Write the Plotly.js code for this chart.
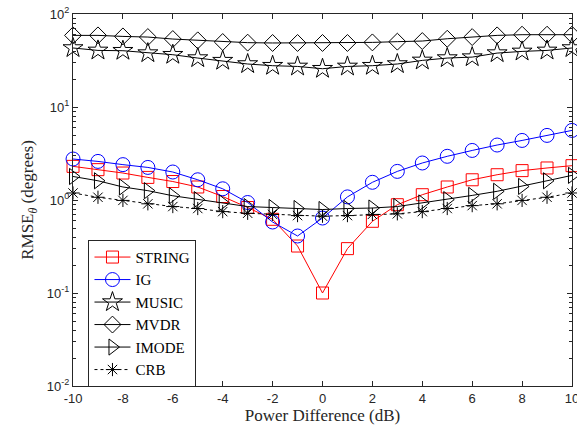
<!DOCTYPE html>
<html>
<head>
<meta charset="utf-8">
<script src="https://cdn.plot.ly/plotly-3.0.1.min.js"></script>
<style>html,body{margin:0;padding:0;background:#fff;}#chart{width:577px;height:434px;}</style>
</head>
<body>
<div id="chart"></div>
<script>
const powerDiff = [-10,-9,-8,-7,-6,-5,-4,-3,-2,-1,0,1,2,3,4,5,6,7,8,9,10];
const stringVals = [2.30,2.12,1.95,1.75,1.58,1.38,1.09,0.83,0.62,0.32,0.10,0.30,0.59,0.89,1.14,1.38,1.65,1.87,2.07,2.21,2.34];
const igVals = [2.76,2.60,2.40,2.24,2.00,1.65,1.32,0.94,0.58,0.41,0.64,1.08,1.55,2.03,2.50,2.95,3.41,3.90,4.37,4.95,5.60];
const musicVals = [43.1,40.6,40.3,38.0,36.5,33.6,31.5,29.0,27.8,27.3,25.8,27.3,27.8,29.0,31.7,33.6,34.4,38.0,39.6,40.6,43.1];
const mvdrVals = [58.9,58.9,57.4,56.5,53.8,52.1,50.0,49.2,48.8,48.8,48.8,48.8,49.5,50.4,51.2,54.2,56.5,58.9,59.9,59.9,59.9];
const imodeVals = [1.79,1.61,1.38,1.26,1.11,1.01,0.93,0.85,0.83,0.81,0.79,0.81,0.82,0.85,0.93,1.01,1.12,1.24,1.40,1.61,1.84];
const crbVals = [1.19,1.07,0.99,0.91,0.85,0.81,0.75,0.72,0.70,0.68,0.67,0.68,0.70,0.71,0.75,0.81,0.87,0.91,0.99,1.07,1.19];
const xTicks = [-10,-8,-6,-4,-2,0,2,4,6,8,10];
const yTicks = [0.01,0.1,1,10,100];
const yTickText = ['10<sup>-2</sup>','10<sup>-1</sup>','10<sup>0</sup>','10<sup>1</sup>','10<sup>2</sup>'];
const yMinor = [0.02,0.03,0.04,0.05,0.06,0.07,0.08,0.09,0.2,0.3,0.4,0.5,0.6,0.7,0.8,0.9,2,3,4,5,6,7,8,9,20,30,40,50,60,70,80,90];

const serif = '"Times New Roman", "Liberation Serif", "DejaVu Serif", serif';
const sans = 'Helvetica, Arial, "Liberation Sans", sans-serif';
function tr(name, y, color, symbol, size, dash){
  return {x: powerDiff, y: y, name: name, type:'scatter', mode:'lines+markers', cliponaxis:false,
    line:{color:color, width:1, dash:dash||'solid'},
    marker:{symbol:symbol, size:size, color:color, line:{color:color, width:1}}};
}
const data = [
  tr('STRING', stringVals, '#ff0000', 'square-open', 12),
  tr('IG', igVals, '#0000ff', 'circle-open', 14),
  tr('MUSIC', musicVals, '#000000', 'star-open', 15),
  tr('MVDR', mvdrVals, '#000000', 'diamond-open', 13),
  tr('IMODE', imodeVals, '#000000', 'triangle-right-open', 14),
  tr('CRB', crbVals, '#000000', 'asterisk-open', 11, 'dot')
];
const axCol = '#262626';
const layout = {
  width:577, height:434,
  margin:{l:72.7, r:4.7, t:14.3, b:48},
  paper_bgcolor:'#fff', plot_bgcolor:'#fff',
  showlegend:true,
  legend:{x:0.031, y:0.393, xanchor:'left', yanchor:'top', bgcolor:'#fff', bordercolor:axCol, borderwidth:1,
    font:{family:serif, size:15, color:'#000'}, tracegroupgap:0, itemwidth:36},
  xaxis:{range:[-10.001,10.001], tickvals:xTicks, ticktext:xTicks.map(String), ticks:'inside', ticklen:5, tickcolor:axCol, showline:true, linecolor:axCol, linewidth:1,
    mirror:'ticks', showgrid:false, zeroline:false, ticklabeloverflow:'allow',
    tickfont:{family:sans, size:13, color:axCol},
    title:{text:'Power Difference (dB)', font:{family:serif, size:17, color:axCol}, standoff:3}},
  yaxis:{type:'log', range:[-2,2], tickvals:yTicks, ticktext:yTickText, ticks:'inside', ticklen:5, tickcolor:axCol,
    showline:true, linecolor:axCol, linewidth:1, mirror:'ticks', showgrid:false, zeroline:false,
    minor:{tickvals:yMinor, ticks:'inside', ticklen:3, tickcolor:axCol, showgrid:false},
    tickfont:{family:sans, size:13, color:axCol},
    title:{text:'RMSE<sub><i>θ</i></sub> (degrees)', font:{family:serif, size:17, color:axCol}, standoff:8}}
};
Plotly.newPlot('chart', data, layout, {displayModeBar:false, staticPlot:true});
</script>
</body>
</html>
